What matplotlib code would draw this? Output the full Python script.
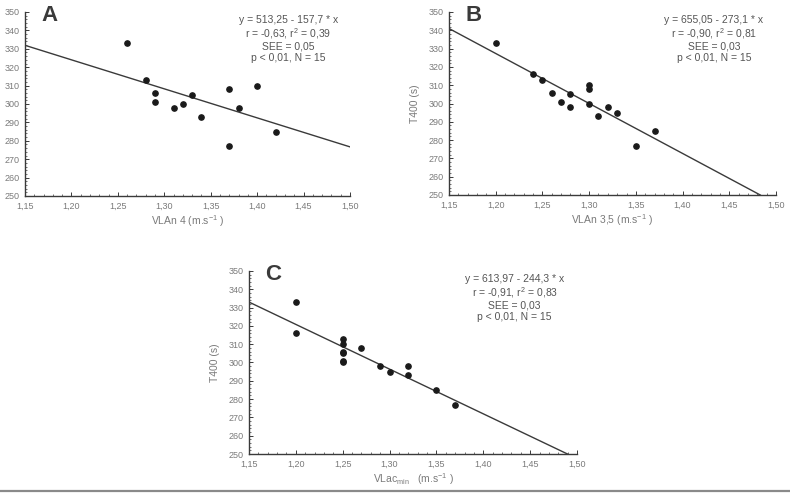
from matplotlib import pyplot as plt
from matplotlib.ticker import MultipleLocator, FuncFormatter
import numpy as np

plt.rcParams['font.family'] = ['Liberation Sans', 'DejaVu Sans']
plt.rcParams['mathtext.fontset'] = 'custom'
plt.rcParams['mathtext.rm'] = 'Liberation Sans'
plt.rcParams['mathtext.it'] = 'Liberation Sans'

# panel A: VLAn 4 vs T400
A_X = [1.26, 1.28, 1.29, 1.29, 1.31, 1.32, 1.33, 1.34, 1.37, 1.37, 1.38, 1.40, 1.42]
A_Y = [333, 313, 306, 301, 298, 300, 305, 293, 308, 277, 298, 310, 285]
A_FIT = (513.25, -157.7)

# panel B: VLAn 3,5 vs T400
B_X = [1.20, 1.24, 1.25, 1.26, 1.27, 1.28, 1.28, 1.30, 1.30, 1.30, 1.31, 1.32, 1.33, 1.35, 1.37]
B_Y = [333, 316, 313, 306, 301, 305, 298, 310, 308, 300, 293, 298, 295, 277, 285]
B_FIT = (655.05, -273.1)

# panel C: VLac min vs T400
C_X = [1.20, 1.20, 1.25, 1.25, 1.25, 1.25, 1.25, 1.25, 1.27, 1.29, 1.30, 1.32, 1.32, 1.35, 1.37]
C_Y = [333, 316, 313, 310, 306, 305, 301, 300, 308, 298, 295, 298, 293, 285, 277]
C_FIT = (613.97, -244.3)

A_TEXT = "y = 513,25 - 157,7 * x\nr = -0,63, r$^2$ = 0,39\nSEE = 0,05\np < 0,01, N = 15"
B_TEXT = "y = 655,05 - 273,1 * x\nr = -0,90, r$^2$ = 0,81\nSEE = 0,03\np < 0,01, N = 15"
C_TEXT = "y = 613,97 - 244,3 * x\nr = -0,91, r$^2$ = 0,83\nSEE = 0,03\np < 0,01, N = 15"

GRAY = '#7a7a7a'
DARK = '#3a3a3a'

W, H = 790, 497
fig = plt.figure(figsize=(W / 100, H / 100), dpi=100)


def box(l, r, t, b):
    return [l / W, 1 - b / H, (r - l) / W, (b - t) / H]


def panel(rect, xs, ys, fit, txt, letter, xlabel):
    ax = fig.add_axes(rect)
    ax.set_xlim(1.15, 1.50)
    ax.set_ylim(250, 350)
    a, b = fit
    lx = np.array([1.15, 1.50])
    ly = a + b * lx
    # clip the line where it leaves the bottom of the axes
    if ly[1] < 250:
        lx[1] = (250 - a) / b
        ly[1] = 250
    ax.plot(lx, ly, color=DARK, lw=1.0, zorder=2)
    ax.plot(xs, ys, 'o', color='#1a1a1a', ms=3.8, zorder=3)

    for s in ['top', 'right']:
        ax.spines[s].set_visible(False)
    for s in ['left', 'bottom']:
        ax.spines[s].set_color(DARK)
        ax.spines[s].set_linewidth(1.0)

    ax.xaxis.set_major_locator(MultipleLocator(0.05))
    ax.xaxis.set_minor_locator(MultipleLocator(0.01))
    ax.yaxis.set_major_locator(MultipleLocator(10))
    ax.yaxis.set_minor_locator(MultipleLocator(2))
    ax.xaxis.set_major_formatter(FuncFormatter(lambda v, p: ('%.2f' % v).replace('.', ',')))
    ax.tick_params(which='both', direction='in', colors=DARK, labelcolor=GRAY,
                   labelsize=6.5)
    ax.tick_params(which='major', length=3, width=0.7, pad=4)
    ax.tick_params(which='minor', length=1.5, width=0.5)

    ax.set_xlabel(xlabel, fontsize=7.5, color=GRAY, labelpad=2)
    ax.set_ylabel('T400 (s)', fontsize=7.5, color=GRAY, labelpad=6)
    ax.text(0.81, 0.985, txt, transform=ax.transAxes, ha='center', va='top',
            fontsize=7.5, color='#555555', linespacing=1.12)
    ax.text(0.05, 1.04, letter, transform=ax.transAxes, ha='left', va='top',
            fontsize=16, fontweight='bold', color=DARK)
    return ax


panel(box(25, 350, 12, 196), A_X, A_Y, A_FIT, A_TEXT, 'A', 'VLAn 4 (m.s$^{-1}$ )')
panel(box(449, 776, 12, 195), B_X, B_Y, B_FIT, B_TEXT, 'B', 'VLAn 3,5 (m.s$^{-1}$ )')
panel(box(249, 577, 271, 454), C_X, C_Y, C_FIT, C_TEXT, 'C',
      'VLac$_{min}$   (m.s$^{-1}$ )')

# thin gray rule at the bottom of the figure
fig.add_artist(plt.Line2D([0, 1], [1 - 491 / H, 1 - 491 / H], color='#8a8a8a', lw=1.6))

fig.savefig('out.png', dpi=100)
